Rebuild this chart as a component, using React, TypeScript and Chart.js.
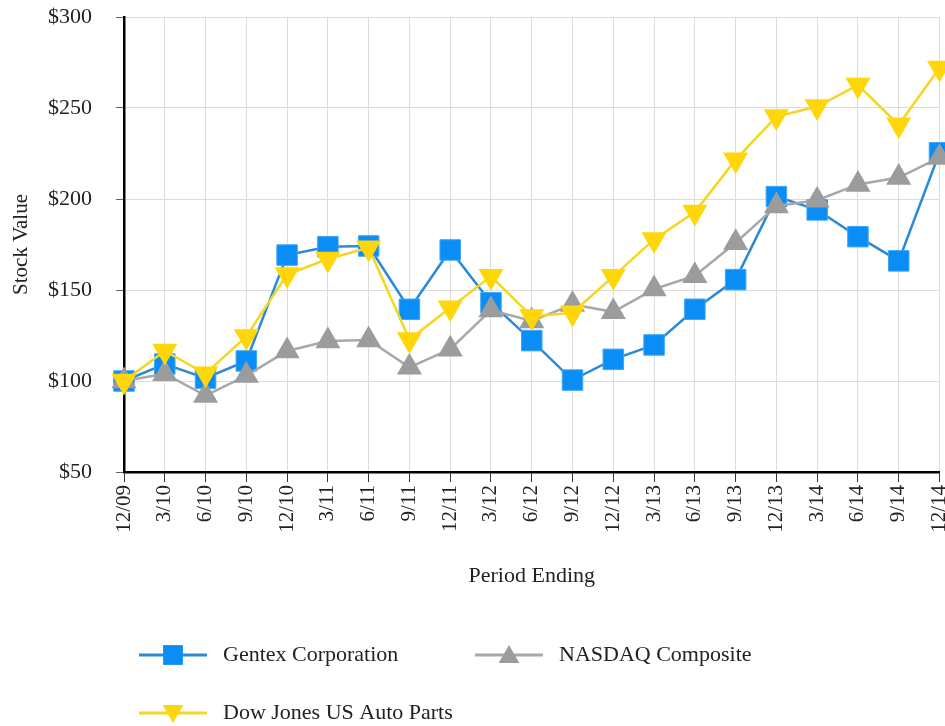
import React, { useEffect, useRef } from "react";
import { Chart, registerables } from "chart.js";

Chart.register(...registerables);

const categories = [
  "12/09", "3/10", "6/10", "9/10", "12/10", "3/11", "6/11", "9/11", "12/11",
  "3/12", "6/12", "9/12", "12/12", "3/13", "6/13", "9/13", "12/13", "3/14",
  "6/14", "9/14", "12/14",
];

const gentex = [
  100, 109.3, 101.6, 111, 169.2, 173.8, 174.2, 139.4, 172, 143, 122.2, 100.5,
  111.9, 119.8, 139.4, 155.7, 201.3, 194, 179.3, 166, 225.4,
];

const nasdaq = [
  100, 104, 92, 103, 116.5, 122, 122.5, 107.5, 117.5, 139, 133, 142,
  138, 150.5, 157.8, 176, 196.2, 199.3, 208, 211.8, 222.8,
];

const dowJones = [
  100, 116.5, 104, 124.5, 158.5, 167, 173.2, 122.8, 140.3, 157.5, 135.5, 137.5,
  157.5, 177.8, 192.8, 221.6, 245.3, 250.8, 262.6, 240.8, 272,
];

const yTicks = [50, 100, 150, 200, 250, 300];

const seriesNames = ["Gentex Corporation", "NASDAQ Composite", "Dow Jones US Auto Parts"];

const FONT = "'Liberation Serif', 'Times New Roman', Times, serif";

const BLUE = "#0A8EF5";
const BLUE_LINE = "#2A8AD6";
const GRAY = "#9C9C9C";
const GRAY_LINE = "#A8A8A8";
const YELLOW = "#FFD60A";
const YELLOW_LINE = "#F4D624";

function drawMarker(ctx: CanvasRenderingContext2D, style: string, x: number, y: number, r: number, rot: number) {
  ctx.beginPath();
  if (style === "rect") {
    const s = Math.SQRT1_2 * r;
    ctx.rect(x - s, y - s, 2 * s, 2 * s);
  } else {
    let rad = (rot * Math.PI) / 180;
    ctx.moveTo(x + Math.sin(rad) * r, y - Math.cos(rad) * r);
    rad += (2 * Math.PI) / 3;
    ctx.lineTo(x + Math.sin(rad) * r, y - Math.cos(rad) * r);
    rad += (2 * Math.PI) / 3;
    ctx.lineTo(x + Math.sin(rad) * r, y - Math.cos(rad) * r);
    ctx.closePath();
  }
  ctx.fill();
}

const legendPlugin = {
  id: "customLegend",
  afterDraw(chart: any) {
    const ctx = chart.ctx;
    const items = [
      { label: seriesNames[0], x: 139, y: 655, line: BLUE_LINE, fill: BLUE, style: "rect", rot: 0, r: 14 },
      { label: seriesNames[1], x: 475, y: 655, line: GRAY_LINE, fill: GRAY, style: "triangle", rot: 0, r: 12 },
      { label: seriesNames[2], x: 139, y: 713, line: YELLOW_LINE, fill: YELLOW, style: "triangle", rot: 180, r: 12 },
    ];
    ctx.save();
    for (const it of items) {
      ctx.strokeStyle = it.line;
      ctx.lineWidth = 3;
      ctx.beginPath();
      ctx.moveTo(it.x, it.y);
      ctx.lineTo(it.x + 68, it.y);
      ctx.stroke();
      ctx.fillStyle = it.fill;
      drawMarker(ctx, it.style, it.x + 34, it.y + (it.style === "triangle" ? (it.rot ? -2 : 2) : 0), it.r, it.rot);
      ctx.fillStyle = "#222";
      ctx.font = `22px ${FONT}`;
      ctx.textBaseline = "middle";
      ctx.textAlign = "left";
      ctx.fillText(it.label, it.x + 84, it.y);
    }
    ctx.restore();
  },
};

export default function App() {
  const ref = useRef<HTMLCanvasElement | null>(null);

  useEffect(() => {
    if (!ref.current) return;
    const chart = new Chart(ref.current, {
      type: "line",
      data: {
        labels: categories,
        datasets: [
          {
            label: seriesNames[2],
            data: dowJones,
            borderColor: YELLOW_LINE,
            backgroundColor: YELLOW,
            pointBackgroundColor: YELLOW,
            pointBorderColor: YELLOW,
            borderWidth: 2.5,
            pointStyle: "triangle",
            pointRotation: 180,
            pointRadius: 12,
            pointHoverRadius: 12,
            tension: 0,
            clip: false as any,
          },
          {
            label: seriesNames[1],
            data: nasdaq,
            borderColor: GRAY_LINE,
            backgroundColor: GRAY,
            pointBackgroundColor: GRAY,
            pointBorderColor: GRAY,
            borderWidth: 2.5,
            pointStyle: "triangle",
            pointRadius: 12,
            pointHoverRadius: 12,
            tension: 0,
            clip: false as any,
          },
          {
            label: seriesNames[0],
            data: gentex,
            borderColor: BLUE_LINE,
            backgroundColor: BLUE,
            pointBackgroundColor: BLUE,
            pointBorderColor: "#3FA6F8",
            pointBorderWidth: 1,
            borderWidth: 2.5,
            pointStyle: "rect",
            pointRadius: 14.5,
            pointHoverRadius: 14.5,
            tension: 0,
            clip: false as any,
          },
        ],
      },
      options: {
        responsive: false,
        animation: false,
        events: [],
        layout: { padding: { top: 17, right: 5, bottom: 124, left: 0 } },
        plugins: {
          legend: { display: false },
          tooltip: { enabled: false },
          title: { display: false },
        },
        scales: {
          x: {
            type: "category",
            offset: false,
            grid: {
              color: "#DCDCDC",
              lineWidth: 1,
              tickColor: "#333",
              tickLength: 10,
              drawTicks: true,
            },
            border: { color: "#000", width: 2.5 },
            ticks: {
              autoSkip: false,
              minRotation: 90,
              maxRotation: 90,
              padding: 3,
              color: "#222",
              font: { family: FONT, size: 21 },
            },
            title: {
              display: true,
              text: "Period Ending",
              color: "#222",
              font: { family: FONT, size: 22 },
              padding: { top: 0, bottom: 13 },
            },
            afterFit: (scale: any) => {
              scale.height = 130;
              scale.paddingRight = 0;
              scale.paddingLeft = 0;
            },
          },
          y: {
            min: 50,
            max: 300,
            afterBuildTicks: (scale: any) => {
              scale.ticks = yTicks.map((v) => ({ value: v }));
            },
            grid: {
              color: "#DCDCDC",
              lineWidth: 1,
              tickColor: "#666",
              tickLength: 8,
            },
            border: { color: "#000", width: 2.5 },
            ticks: {
              padding: 24,
              color: "#222",
              font: { family: FONT, size: 22 },
              callback: (v: any) => "$" + v,
            },
            title: {
              display: true,
              text: "Stock Value",
              color: "#222",
              font: { family: FONT, size: 21 },
              padding: { top: 9, bottom: 0 },
            },
            afterFit: (scale: any) => {
              scale.width = 124;
              scale.paddingTop = 0;
              scale.paddingBottom = 0;
            },
          },
        },
      },
      plugins: [legendPlugin],
    });
    return () => chart.destroy();
  }, []);

  return (
    <div style={{ position: "absolute", left: 0, top: 0, width: 945, height: 726, overflow: "hidden", background: "#fff" }}>
      <canvas ref={ref} width={955} height={726} style={{ display: "block" }} />
    </div>
  );
}
